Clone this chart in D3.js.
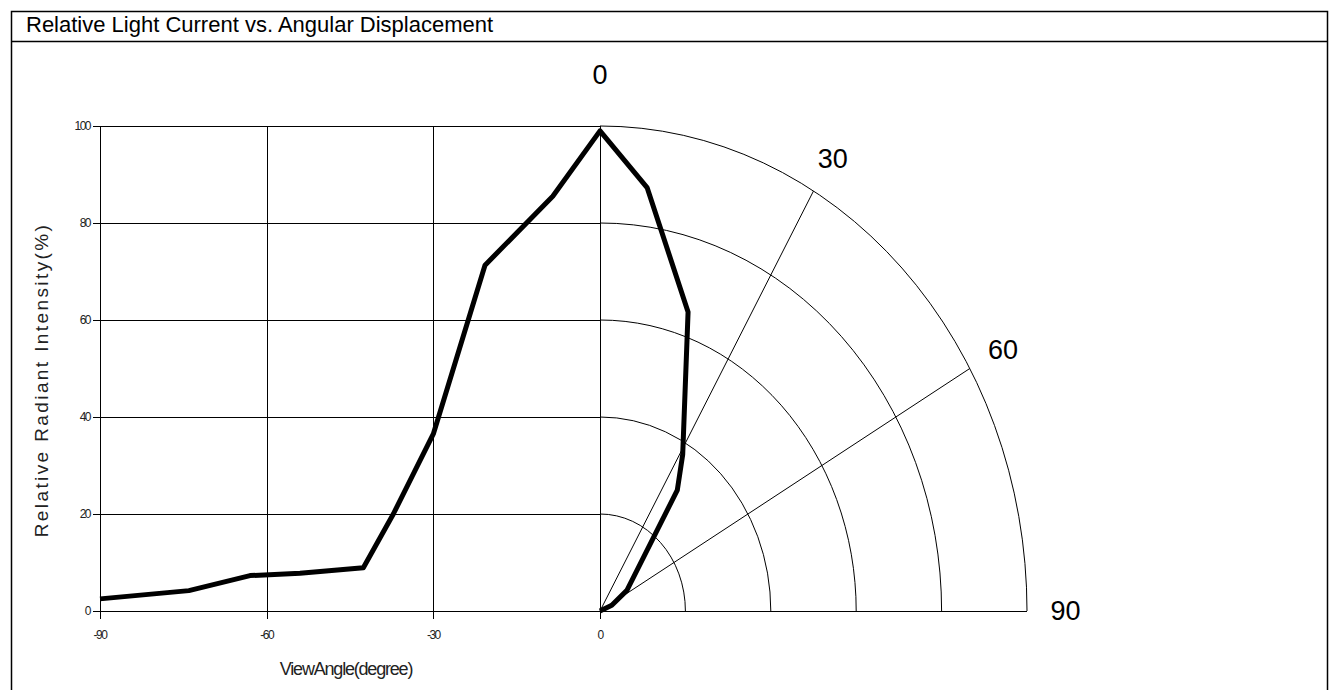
<!DOCTYPE html>
<html>
<head>
<meta charset="utf-8">
<script src="https://cdn.jsdelivr.net/npm/d3@7"></script>
<style>
  body { margin: 0; background: #fff; }
  svg { display: block; font-family: Arial, "Liberation Sans", sans-serif; }
</style>
</head>
<body>
<div id="chart"></div>
<script>
const title = "Relative Light Current vs. Angular Displacement";
const yLabel = "Relative Radiant Intensity(%)";
const xLabel = "ViewAngle(degree)";
const xTicks = [-90, -60, -30, 0];
const yTicks = [0, 20, 40, 60, 80, 100];
const polarRings = [20, 40, 60, 80, 100];
const polarSpokes = [30, 60];
const polarLabels = [0, 30, 60, 90];

// left half: view angle (deg) vs relative intensity (%)
const leftAngle = [-90, -74, -63, -54, -42.6, -37.2, -30, -20.7, -8.5, 0];
const leftValue = [2.5, 4.2, 7.3, 7.8, 8.9, 20, 36.5, 71.3, 85.5, 99];

// right half: polar plot, angle from axis (deg) vs relative intensity (%)
const rightAngle = [0, 7.2, 18.5, 31, 36, 56, 67, 90];
const rightValue = [99, 88, 65, 37.6, 30.8, 7.6, 3, 0];

const W = 1339, H = 690;

const svg = d3.select("#chart").append("svg")
  .attr("width", W)
  .attr("height", H);

// frame + header
svg.append("rect")
  .attr("x", 11.5).attr("y", 11.5)
  .attr("width", 1316).attr("height", 700)
  .attr("fill", "none").attr("stroke", "#000").attr("stroke-width", 1.5);
svg.append("line")
  .attr("x1", 11.5).attr("x2", 1327.5)
  .attr("y1", 41.5).attr("y2", 41.5)
  .attr("stroke", "#000").attr("stroke-width", 1.5);
svg.append("text")
  .attr("x", 26).attr("y", 32)
  .style("font-size", "22px")
  .text(title);

// scales
const x = d3.scaleLinear().domain([-90, 0]).range([100, 600]);
const y = d3.scaleLinear().domain([0, 100]).range([611, 126]);
const rx = d3.scaleLinear().domain([0, 100]).range([0, 427]);
const cx = x(0), cy = y(0);
const rad = (a) => (a * Math.PI) / 180;
const polarX = (a, r) => cx + rx(r) * Math.sin(rad(a));
const polarY = (a, r) => cy - (cy - y(r)) * Math.cos(rad(a));

const grid = svg.append("g")
  .attr("stroke", "#000")
  .attr("stroke-width", 1)
  .attr("fill", "none");

// horizontal grid lines
grid.selectAll(".hgrid")
  .data(yTicks.filter((d) => d > 0))
  .enter().append("line")
  .attr("x1", x(-90)).attr("x2", x(0))
  .attr("y1", (d) => Math.round(y(d)) + 0.5)
  .attr("y2", (d) => Math.round(y(d)) + 0.5);

// vertical grid lines
grid.selectAll(".vgrid")
  .data(xTicks)
  .enter().append("line")
  .attr("x1", (d) => Math.round(x(d)) + 0.5)
  .attr("x2", (d) => Math.round(x(d)) + 0.5)
  .attr("y1", y(100))
  .attr("y2", cy + 8);

// baseline
grid.append("line")
  .attr("x1", x(-90) - 7).attr("x2", polarX(90, 100))
  .attr("y1", Math.round(cy) + 0.5).attr("y2", Math.round(cy) + 0.5);

// y ticks
grid.selectAll(".ytick")
  .data(yTicks)
  .enter().append("line")
  .attr("x1", x(-90) - 7).attr("x2", x(-90))
  .attr("y1", (d) => Math.round(y(d)) + 0.5)
  .attr("y2", (d) => Math.round(y(d)) + 0.5);

// polar rings (quarter ellipses)
grid.selectAll(".ring")
  .data(polarRings)
  .enter().append("path")
  .attr("d", (r) =>
    `M${polarX(0, r)},${polarY(0, r)} A${rx(r)},${cy - y(r)} 0 0 1 ${polarX(90, r)},${polarY(90, r)}`);

// polar spokes
grid.selectAll(".spoke")
  .data(polarSpokes)
  .enter().append("line")
  .attr("x1", cx).attr("y1", cy)
  .attr("x2", (a) => polarX(a, 100))
  .attr("y2", (a) => polarY(a, 100));

// tick labels
svg.selectAll(".xlab")
  .data(xTicks)
  .enter().append("text")
  .attr("x", (d) => x(d))
  .attr("y", cy + 28)
  .attr("text-anchor", "middle")
  .style("font-size", "12px")
  .style("letter-spacing", "-1.5px")
  .attr("fill", "#222")
  .text((d) => d);

svg.selectAll(".ylab")
  .data(yTicks)
  .enter().append("text")
  .attr("x", x(-90) - 10)
  .attr("y", (d) => y(d) + 4)
  .attr("text-anchor", "end")
  .style("font-size", "12px")
  .style("letter-spacing", "-1.5px")
  .attr("fill", "#222")
  .text((d) => d);

// polar labels
svg.selectAll(".plab")
  .data(polarLabels)
  .enter().append("text")
  .attr("x", (a) => polarX(a, 109))
  .attr("y", (a) => polarY(a, a === 0 ? 110.5 : 107.5))
  .attr("text-anchor", "middle")
  .attr("dominant-baseline", "central")
  .style("font-size", "27px")
  .text((d) => d);

// axis titles
svg.append("text")
  .attr("transform", "translate(48,380) rotate(-90)")
  .attr("text-anchor", "middle")
  .style("font-size", "19px")
  .style("letter-spacing", "2.4px")
  .attr("fill", "#222")
  .text(yLabel);

svg.append("text")
  .attr("x", 346).attr("y", 675)
  .attr("text-anchor", "middle")
  .style("font-size", "18px")
  .style("letter-spacing", "-1.2px")
  .attr("fill", "#222")
  .text(xLabel);

// curve
const leftPts = leftAngle.map((a, i) => [x(a), y(leftValue[i])]);
const rightPts = rightAngle.map((a, i) => [polarX(a, rightValue[i]), polarY(a, rightValue[i])]);

svg.append("path")
  .datum(leftPts.concat(rightPts.slice(1)))
  .attr("d", d3.line())
  .attr("fill", "none")
  .attr("stroke", "#000")
  .attr("stroke-width", 5)
  .attr("stroke-linejoin", "round");
</script>
</body>
</html>
